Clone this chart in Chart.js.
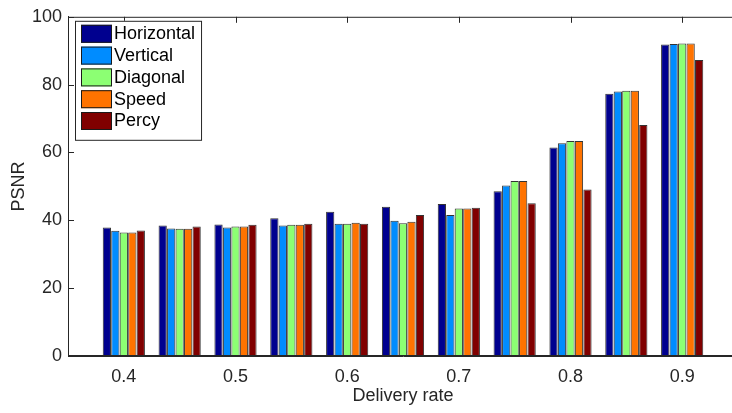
<!DOCTYPE html>
<html>
<head>
<meta charset="utf-8">
<script src="https://cdn.jsdelivr.net/npm/chart.js@4.4.1/dist/chart.umd.min.js"></script>
<style>
  html, body { margin: 0; padding: 0; background: #fff; overflow: hidden; }
  #wrap { position: relative; width: 740px; height: 413px; }
</style>
</head>
<body>
<div id="wrap"><canvas id="chart"></canvas></div>
<script>
// delivery rates (bar groups) and the x tick labels
const rates = [0.4, 0.45, 0.5, 0.55, 0.6, 0.65, 0.7, 0.75, 0.8, 0.85, 0.9];
const xTicks = [0.4, 0.5, 0.6, 0.7, 0.8, 0.9];
const yTicks = [0, 20, 40, 60, 80, 100];

// PSNR per method
const horizontal = [37.9, 38.5, 38.8, 40.6, 42.5, 44.0, 44.8, 48.6, 61.5, 77.3, 91.8];
const vertical = [36.9, 37.6, 37.9, 38.5, 39.0, 39.9, 41.6, 50.3, 62.7, 78.0, 92.0];
const diagonal = [36.4, 37.5, 38.2, 38.7, 39.0, 39.1, 43.5, 51.6, 63.4, 78.2, 92.1];
const speed = [36.4, 37.5, 38.2, 38.7, 39.3, 39.6, 43.5, 51.6, 63.4, 78.2, 92.1];
const percy = [37.0, 38.2, 38.7, 39.0, 39.0, 41.6, 43.7, 45.0, 49.1, 68.1, 87.3];

const series = [
  { label: 'Horizontal', values: horizontal, color: '#00008f' },
  { label: 'Vertical', values: vertical, color: '#008cff' },
  { label: 'Diagonal', values: diagonal, color: '#8cff73' },
  { label: 'Speed', values: speed, color: '#ff7300' },
  { label: 'Percy', values: percy, color: '#800000' },
];

const FONT = '"Liberation Sans", Arial, Helvetica, sans-serif';
const AXIS = '#262626';
const SIZE = 18;

// MATLAB-like box, inward ticks and the legend in the top-left corner
const boxPlugin = {
  id: 'box',
  afterDraw(chart) {
    const { ctx, chartArea: a, scales } = chart;
    ctx.save();
    ctx.strokeStyle = AXIS;
    ctx.lineWidth = 1;
    ctx.beginPath();
    ctx.rect(a.left + 0.5, a.top + 0.5, a.right - a.left - 1, a.bottom - a.top - 1);
    ctx.stroke();

    const t = 6;
    ctx.beginPath();
    yTicks.forEach((v) => {
      const y = Math.round(scales.y.getPixelForValue(v)) + 0.5;
      ctx.moveTo(a.left, y); ctx.lineTo(a.left + t, y);
      ctx.moveTo(a.right, y); ctx.lineTo(a.right - t, y);
    });
    xTicks.forEach((v) => {
      const x = Math.round(scales.x.getPixelForValue(v)) + 0.5;
      ctx.moveTo(x, a.top); ctx.lineTo(x, a.top + t);
    });
    ctx.stroke();

    // legend
    ctx.font = SIZE + 'px ' + FONT;
    const items = chart.data.datasets;
    const textW = Math.max(...items.map((d) => ctx.measureText(d.label).width));
    const lx = a.left + 7;
    const ly = a.top + 4;
    const row = 21.8;
    const w = 6 + 31 + 3 + textW + 5;
    const h = 8 + row * items.length - 4 + 6;
    ctx.fillStyle = '#fff';
    ctx.fillRect(lx, ly, w, h);
    ctx.strokeStyle = AXIS;
    ctx.strokeRect(lx + 0.5, ly + 0.5, w, h);
    items.forEach((d, i) => {
      const top = ly + 4 + i * row;
      ctx.fillStyle = d.backgroundColor;
      ctx.fillRect(lx + 6, top, 31, 18);
      ctx.strokeStyle = '#1a1a1a';
      ctx.strokeRect(lx + 6.5, top + 0.5, 30, 17);
      ctx.fillStyle = '#000';
      ctx.textBaseline = 'middle';
      ctx.textAlign = 'left';
      ctx.fillText(d.label, lx + 6 + 31 + 2, top + 9.5);
    });
    ctx.restore();
  },
};

const datasets = series.map((s) => ({
  label: s.label,
  data: rates.map((r, i) => ({ x: r, y: s.values[i] })),
  backgroundColor: s.color,
  borderColor: '#333333',
  borderWidth: 1,
  categoryPercentage: 0.76,
  barPercentage: 0.97,
}));

new Chart(document.getElementById('chart'), {
  type: 'bar',
  data: { datasets },
  plugins: [boxPlugin],
  options: {
    responsive: true,
    maintainAspectRatio: false,
    devicePixelRatio: 1,
    animation: false,
    layout: { padding: { left: 0, top: 13, right: 2, bottom: 0 } },
    plugins: {
      legend: { display: false },
      tooltip: { enabled: false },
    },
    scales: {
      x: {
        type: 'linear',
        min: 0.35,
        max: 0.95,
        offset: false,
        afterBuildTicks: (scale) => { scale.ticks = xTicks.map((v) => ({ value: v })); },
        afterFit: (scale) => { scale.height = 57; },
        grid: { display: false, drawTicks: false },
        border: { display: true, color: AXIS, width: 1 },
        ticks: {
          autoSkip: false,
          maxRotation: 0,
          padding: 10,
          color: AXIS,
          font: { family: FONT, size: SIZE },
          callback: (v) => Number(v).toFixed(1),
        },
        title: {
          display: true,
          text: 'Delivery rate',
          color: AXIS,
          font: { family: FONT, size: SIZE },
          padding: { top: 0, bottom: 6 },
        },
      },
      y: {
        min: 0,
        max: 100,
        afterBuildTicks: (scale) => { scale.ticks = yTicks.map((v) => ({ value: v })); },
        afterFit: (scale) => { scale.width = 68; },
        grid: { display: false, drawTicks: false },
        border: { display: true, color: AXIS, width: 1 },
        ticks: {
          padding: 6,
          color: AXIS,
          font: { family: FONT, size: SIZE },
        },
        title: {
          display: true,
          text: 'PSNR',
          color: AXIS,
          font: { family: FONT, size: SIZE },
          padding: { top: 8, bottom: 0 },
        },
      },
    },
  },
});
</script>
</body>
</html>
